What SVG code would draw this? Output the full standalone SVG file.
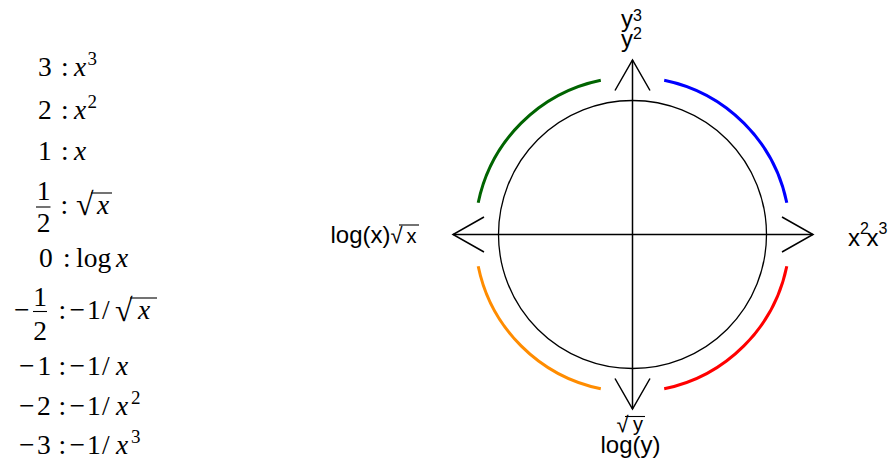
<svg xmlns="http://www.w3.org/2000/svg" width="892" height="462" viewBox="0 0 892 462">
<style>
.m{font-family:"Liberation Serif","DejaVu Serif",serif;font-size:27.5px;fill:#000}
.i{font-style:italic}
.r{font-size:32px}
.sp{font-family:"Liberation Serif","DejaVu Serif",serif;font-size:19px;fill:#000}
.s{font-family:"Liberation Sans",Arial,sans-serif;font-size:24px;fill:#000}
.ss{font-family:"Liberation Sans",Arial,sans-serif;font-size:16px;fill:#000}
.rad{font-family:"Liberation Sans",Arial,sans-serif;font-size:22px;fill:#000}
.bar{stroke:#000;stroke-width:1.1;fill:none}
.ax{stroke:#000;stroke-width:1.5;fill:none}
.arc{fill:none;stroke-width:3}
</style>
<rect width="892" height="462" fill="#fff"/>
<g id="legend">
<g id="row3"><text class="m" x="38" y="76">3</text><text class="m" x="61" y="76">:</text><text class="m i" x="74" y="76">x</text><text class="sp" x="87.5" y="65">3</text></g>
<g id="row2"><text class="m" x="38" y="118.5">2</text><text class="m" x="61" y="118.5">:</text><text class="m i" x="74" y="118.5">x</text><text class="sp" x="87.5" y="107.5">2</text></g>
<g id="row1"><text class="m" x="38" y="159.5">1</text><text class="m" x="61" y="159.5">:</text><text class="m i" x="74" y="159.5">x</text></g>
<g id="rowhalf"><text class="m" x="43.5" y="200" text-anchor="middle">1</text><line class="bar" x1="36" y1="207" x2="50.5" y2="207"/><text class="m" x="43.5" y="232" text-anchor="middle">2</text><text class="m" x="60.5" y="213.5">:</text><text class="m r" x="76" y="215">√</text><line class="bar" x1="91" y1="193" x2="112" y2="193"/><text class="m i" x="97" y="213.5">x</text></g>
<g id="row0"><text class="m" x="39" y="267">0</text><text class="m" x="63" y="267">:</text><text class="m" x="76" y="267">log</text><text class="m i" x="116" y="267">x</text></g>
<g id="rowmhalf"><text class="m" x="14" y="319">−</text><text class="m" x="40" y="306" text-anchor="middle">1</text><line class="bar" x1="33" y1="311.5" x2="47" y2="311.5"/><text class="m" x="40" y="340" text-anchor="middle">2</text><text class="m" x="58.5" y="319">:</text><text class="m" x="69.5" y="319">−</text><text class="m" x="87" y="319">1</text><text class="m" x="102" y="319">/</text><text class="m r" x="115" y="321">√</text><line class="bar" x1="130" y1="298" x2="157" y2="298"/><text class="m i" x="138" y="319">x</text></g>
<g id="rowm1"><text class="m" x="19" y="375">−</text><text class="m" x="37.5" y="375">1</text><text class="m" x="58.5" y="375">:</text><text class="m" x="69.5" y="375">−</text><text class="m" x="87" y="375">1</text><text class="m" x="102" y="375">/</text><text class="m i" x="116" y="375">x</text></g>
<g id="rowm2"><text class="m" x="19" y="414.5">−</text><text class="m" x="37" y="414.5">2</text><text class="m" x="58.5" y="414.5">:</text><text class="m" x="69.5" y="414.5">−</text><text class="m" x="87" y="414.5">1</text><text class="m" x="102" y="414.5">/</text><text class="m i" x="116" y="414.5">x</text><text class="sp" x="131" y="403.5">2</text></g>
<g id="rowm3"><text class="m" x="19" y="454">−</text><text class="m" x="37" y="454">3</text><text class="m" x="58.5" y="454">:</text><text class="m" x="69.5" y="454">−</text><text class="m" x="87" y="454">1</text><text class="m" x="102" y="454">/</text><text class="m i" x="116" y="454">x</text><text class="sp" x="131" y="443">3</text></g>
</g>
<g id="circle"><circle cx="632.5" cy="234.5" r="134" fill="none" stroke="#000" stroke-width="1.3"/></g>
<g id="connectors">
<line class="ax" x1="453" y1="234.5" x2="813" y2="234.5"/>
<line class="ax" x1="632.5" y1="60" x2="632.5" y2="409"/>
<polyline class="ax" points="484,217 453,234.5 484,252"/>
<polyline class="ax" points="782,217 813,234.5 782,252"/>
<polyline class="ax" points="615,90.5 632.5,60 650,90.5"/>
<polyline class="ax" points="615,378.5 632.5,409 650,378.5"/>
</g>
<g id="arcs">
<path class="arc" stroke="#006400" d="M478.2 202.8 A157.5 157.5 0 0 1 600.8 80.2"/>
<path class="arc" stroke="#0000FF" d="M664.2 80.2 A157.5 157.5 0 0 1 786.8 202.8"/>
<path class="arc" stroke="#FF0000" d="M786.8 266.2 A157.5 157.5 0 0 1 664.2 388.8"/>
<path class="arc" stroke="#FF8C00" d="M600.8 388.8 A157.5 157.5 0 0 1 478.2 266.2"/>
</g>
<g id="label-top"><text class="s" x="621" y="27">y</text><text class="ss" x="633" y="20.5">3</text><text class="s" x="621" y="47">y</text><text class="ss" x="633" y="38.5">2</text></g>
<g id="label-right"><text class="s" x="848" y="246">x</text><text class="ss" x="860" y="233.5">2</text><text class="s" x="866.5" y="246">x</text><text class="ss" x="878.5" y="233.5">3</text></g>
<g id="label-left"><text class="s" x="330.5" y="243">log(x)</text><text class="rad" x="390.5" y="243">√</text><line class="bar" x1="399" y1="225" x2="419" y2="225"/><text class="s" x="406.5" y="243" style="font-size:20px">x</text></g>
<g id="label-bottom"><text class="rad" x="616.5" y="432">√</text><line class="bar" x1="625" y1="416.5" x2="645" y2="416.5"/><text class="s" x="633" y="431" style="font-size:20px">y</text><text class="s" x="600.5" y="453">log(y)</text></g>
</svg>
